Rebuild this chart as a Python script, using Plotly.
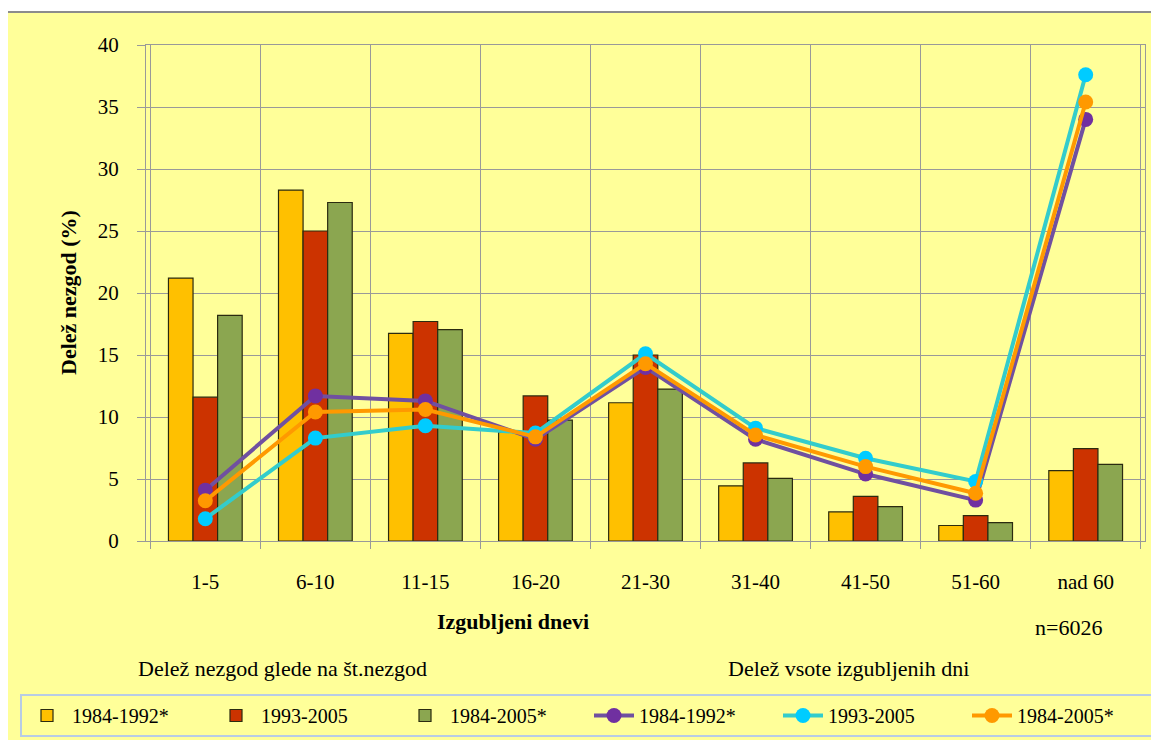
import plotly.graph_objects as go

categories = ["1-5", "6-10", "11-15", "16-20", "21-30", "31-40", "41-50", "51-60", "nad 60"]
bar_8492 = [21.2, 28.3, 16.75, 8.8, 11.15, 4.45, 2.35, 1.25, 5.67]
bar_9305 = [11.6, 25.0, 17.7, 11.7, 15.0, 6.3, 3.6, 2.05, 7.45]
bar_8405 = [18.2, 27.3, 17.05, 9.75, 12.25, 5.05, 2.77, 1.48, 6.18]
line_8492 = [4.1, 11.7, 11.3, 8.2, 14.0, 8.2, 5.4, 3.3, 34.0]
line_9305 = [1.8, 8.3, 9.3, 8.7, 15.1, 9.1, 6.67, 4.8, 37.6]
line_8405 = [3.25, 10.4, 10.6, 8.4, 14.3, 8.55, 6.0, 3.85, 35.4]
y_ticks = [0, 5, 10, 15, 20, 25, 30, 35, 40]

W, H = 1159, 740
OFF = 8  # page body margin
L, R, T, B = 146 - OFF, 1145 - OFF, 45 - OFF, 541 - OFF
def px(x):
    return (x - OFF - L) / (R - L)
def py(y):
    return (B - (y - OFF)) / (B - T)

FONT = "Liberation Serif"
fig = go.Figure()
bar_line = dict(color="#2b2b10", width=1.2)
fig.add_trace(go.Bar(x=categories, y=bar_8492, name="1984-1992*", marker=dict(color="#FFC000", line=bar_line)))
fig.add_trace(go.Bar(x=categories, y=bar_9305, name="1993-2005", marker=dict(color="#CC3300", line=bar_line)))
fig.add_trace(go.Bar(x=categories, y=bar_8405, name="1984-2005*", marker=dict(color="#8BA650", line=bar_line)))
fig.add_trace(go.Scatter(x=categories, y=line_8492, name="1984-1992*", mode="lines+markers",
                         line=dict(color="#7050A0", width=4), marker=dict(color="#7030A0", size=15)))
fig.add_trace(go.Scatter(x=categories, y=line_9305, name="1993-2005", mode="lines+markers",
                         line=dict(color="#33CCCC", width=4), marker=dict(color="#00CCFF", size=15)))
fig.add_trace(go.Scatter(x=categories, y=line_8405, name="1984-2005*", mode="lines+markers",
                         line=dict(color="#FF9900", width=4), marker=dict(color="#FF9900", size=15)))

annotations = [
    dict(text="<b>Delež nezgod (%)</b>", x=px(68), y=py(293), textangle=-90, font=dict(size=22)),
    dict(text="<b>Izgubljeni dnevi</b>", x=px(513), y=py(621), font=dict(size=22)),
    dict(text="n=6026", x=px(1068), y=py(627), font=dict(size=22)),
    dict(text="Delež nezgod glede na št.nezgod", x=px(282), y=py(668), font=dict(size=22)),
    dict(text="Delež vsote izgubljenih dni", x=px(848), y=py(668), font=dict(size=22)),
]
for a in annotations:
    a.update(xref="paper", yref="paper", showarrow=False, xanchor="center", yanchor="middle")

fig.update_layout(
    width=W, height=H,
    margin=dict(l=L, r=W - R, t=T, b=H - B, autoexpand=False),
    paper_bgcolor="white",
    plot_bgcolor="#FFFF99",
    font=dict(family=FONT, size=20, color="black"),
    barmode="group", bargap=0.33, bargroupgap=0,
    showlegend=True,
    legend=dict(orientation="h", x=px(20), y=py(694), xanchor="left", yanchor="top",
                bgcolor="#FFFF99", bordercolor="#B8CCE4", borderwidth=2,
                font=dict(family=FONT, size=20), entrywidth=134, itemwidth=40,
                traceorder="normal"),
    annotations=annotations,
    shapes=[dict(type="rect", xref="paper", yref="paper", x0=px(7), x1=px(1180), y0=py(12), y1=py(800),
                 fillcolor="#FFFF99", line=dict(color="#8C8C8C", width=2), layer="below")],
)
fig.update_xaxes(type="category", tickson="boundaries", showgrid=True, gridcolor="#999999", gridwidth=1,
                 ticks="outside", ticklen=7, tickcolor="#999999", showline=True, linecolor="#999999",
                 mirror=True, ticklabelstandoff=22, tickfont=dict(size=21))
fig.update_yaxes(range=[0, 40], tickvals=y_ticks, showgrid=True, gridcolor="#999999", gridwidth=1,
                 ticks="outside", ticklen=8, tickcolor="#999999", showline=True, linecolor="#999999",
                 mirror=True, zeroline=False, ticklabelstandoff=14, tickfont=dict(size=21))

fig.write_html("out.html")
